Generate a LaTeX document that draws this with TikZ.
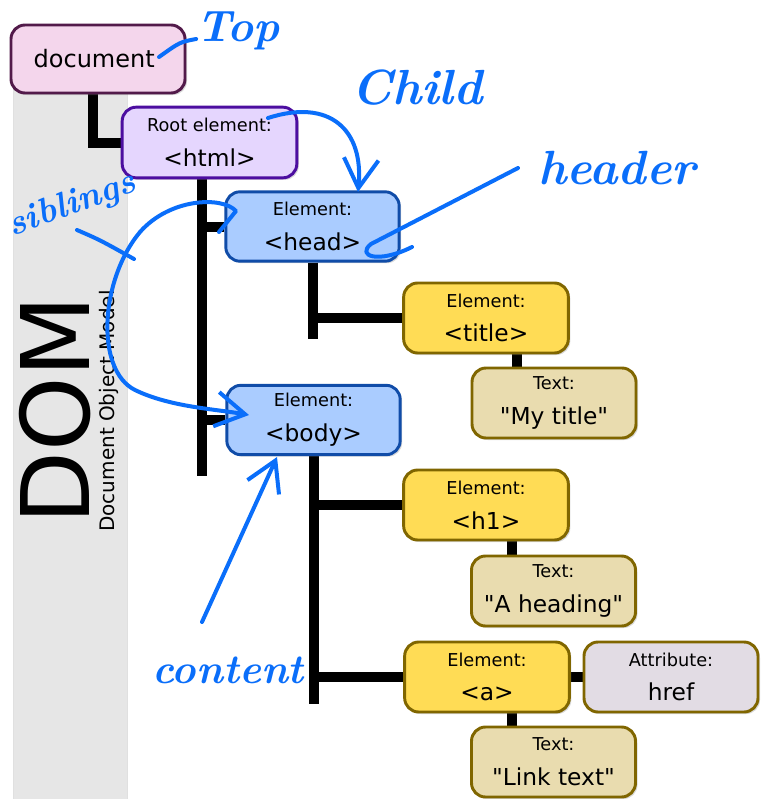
\documentclass[tikz,border=0pt]{standalone}
\usepackage{fontspec}
\setsansfont{DejaVu Sans}[Ligatures=TeXOff]
\usetikzlibrary{shadows,arrows.meta}

\definecolor{docfill}{RGB}{244,214,236}
\definecolor{docline}{RGB}{82,26,74}
\definecolor{rootfill}{RGB}{229,214,254}
\definecolor{rootline}{RGB}{76,14,160}
\definecolor{elemfill}{RGB}{170,204,255}
\definecolor{elemline}{RGB}{16,76,168}
\definecolor{leaffill}{RGB}{255,220,85}
\definecolor{leafline}{RGB}{128,102,0}
\definecolor{textfill}{RGB}{233,220,175}
\definecolor{attrfill}{RGB}{226,220,228}
\definecolor{band}{RGB}{230,230,230}
\definecolor{pen}{RGB}{10,110,250}

\newcommand{\kind}[1]{{\fontsize{13.3}{15}\selectfont #1}}

\pgfdeclarelayer{back}
\pgfsetlayers{back,main}

\begin{document}
\begin{tikzpicture}[x=0.75pt,y=-0.75pt,
  every path/.style={>={Straight Barb[length=22pt,width=26pt]}},
  box/.style={draw,rounded corners=10.5pt,line width=2.2pt,align=center,inner sep=0pt,
    font=\sffamily\fontsize{17.5}{26}\selectfont,
    drop shadow={opacity=0.3,shadow xshift=1.5pt,shadow yshift=-1.5pt}},
  docbox/.style={box,fill=docfill,draw=docline,minimum width=130.5pt,minimum height=51pt,
    font=\sffamily\fontsize{18}{22}\selectfont},
  rootbox/.style={box,fill=rootfill,draw=rootline,minimum width=131pt,minimum height=53pt},
  elembox/.style={box,fill=elemfill,draw=elemline,minimum width=130pt,minimum height=52pt},
  leafbox/.style={box,fill=leaffill,draw=leafline,minimum width=123.5pt,minimum height=52.5pt},
  textbox/.style={box,fill=textfill,draw=leafline,minimum width=123pt,minimum height=52.5pt},
  attrbox/.style={box,fill=attrfill,draw=leafline,minimum width=130.5pt,minimum height=52.5pt},
  tree/.style={line width=7.5pt,black},
  hand/.style={pen,line width=3pt,line cap=round,line join=round},
  handtext/.style={text=pen,inner sep=0pt,font=\rmfamily\bfseries\itshape\fontsize{#1}{#1}\selectfont}]
\useasboundingbox (0,0) rectangle (760,799);

\node[docbox]  (doc)     at (98,59)    { document };
\node[rootbox] (html)    at (209.5,142.5) { \kind{Root element:}\\<html> };
\node[elembox] (head)    at (312.5,226.5) { \kind{Element:}\\<head> };
\node[leafbox] (title)   at (486,318)  { \kind{Element:}\\<title> };
\node[textbox] (mytitle) at (554,403)  { \kind{Text:}\\"My title" };
\node[elembox] (body)    at (313.5,420) { \kind{Element:}\\<body> };
\node[leafbox] (h1)      at (486,505)  { \kind{Element:}\\<h1> };
\node[textbox] (heading) at (553.5,591) { \kind{Text:}\\"A heading" };
\node[leafbox] (a)       at (487,677)  { \kind{Element:}\\<a> };
\node[attrbox] (href)    at (671,677)  { \kind{Attribute:}\\href };
\node[textbox] (link)    at (553.5,762) { \kind{Text:}\\"Link text" };

\node[rotate=90,font=\sffamily\fontsize{71}{71}\selectfont] (dom)  at (55,410)  { DOM };
\node[rotate=90,font=\sffamily\fontsize{15}{15}\selectfont] (full) at (109,411) { Document Object Model };

\begin{pgfonlayer}{back}
\fill[band,draw=black!12] (13,60) rectangle (127,799);
\draw[tree] ([xshift=-4pt]doc.south) |- (html.west);
\draw[tree] ([xshift=-5.5pt]html.south) -- ++(0,297);
\draw[tree] ([xshift=-5.5pt]html.south) |- (head.west);
\draw[tree] ([xshift=-5.5pt]html.south) |- (body.west);
\draw[tree] (head.south) -- ++(0,76);
\draw[tree] (head.south) |- (title.west);
\draw[tree] (body.south) -- ++(0,248);
\draw[tree] (body.south) |- (h1.west);
\draw[tree] (body.south) |- (a.west);
\draw[tree] ([xshift=23pt]title.south) -- ([xshift=23pt]title.south |- mytitle.north);
\draw[tree] ([xshift=19.5pt]h1.south) -- ([xshift=19.5pt]h1.south |- heading.north);
\draw[tree] ([xshift=18.75pt]a.south) -- ([xshift=18.75pt]a.south |- link.north);
\draw[tree] (a.east) -- (href.west);
\end{pgfonlayer}

% handwritten notes
\node[handtext=33] (toplbl)    at (238,31)  { Top };
\node[handtext=37] (childlbl)  at (417,88)  { Child };
\node[handtext=36] (headerlbl) at (617,168) { header };
\node[handtext=27,rotate=20] (siblbl) at (72,205) { siblings };
\node[handtext=31] (contlbl)   at (228,670) { content };

\coordinate (topend)   at (159,57);
\coordinate (rootend)  at (268,118);
\coordinate (headtop)  at (358,192);
\coordinate (headin)   at (371,244);
\coordinate (sibstart) at (77,230);
\coordinate (sibend)   at (134,259);
\coordinate (headleft) at (236,211);
\coordinate (bodyleft) at (249,415);
\coordinate (contend)  at (202,622);
\coordinate (bodybot)  at (277,457);

\draw[hand] ([yshift=-6pt]toplbl.west) .. controls (180,42) .. (topend);
\draw[hand,->] (rootend) .. controls (330,98) and (364,130) .. (headtop);
\draw[hand] ([xshift=-15pt]headerlbl.west) -- (headin) .. controls (356,256) and (378,264) .. (412,247);
\draw[hand] (sibstart) .. controls (100,240) .. (sibend);
\draw[hand,->] (219,232) -- (headleft) .. controls (222,196) and (170,198) .. (140,232)
  .. controls (100,280) and (95,370) .. (135,390) .. controls (170,407) and (215,409) .. (bodyleft);
\draw[hand,->] (contend) -- (bodybot);
\end{tikzpicture}
\end{document}
